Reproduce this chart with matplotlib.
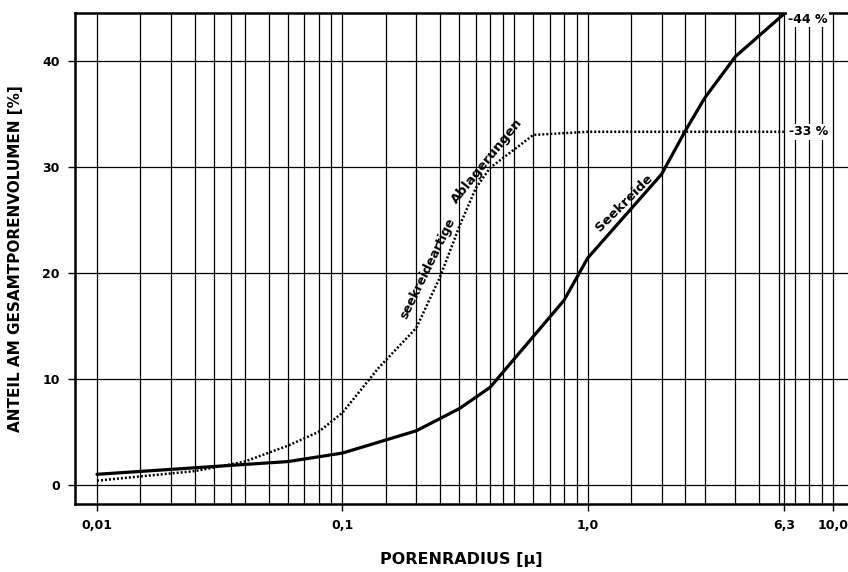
import matplotlib.pyplot as plt
from matplotlib.ticker import FixedLocator, NullFormatter

# Seekreide (solid)
radius_seekreide = [0.01, 0.06, 0.1, 0.2, 0.3, 0.4, 0.8, 1.0, 2.0, 2.5, 3.0, 4.0, 6.3]
anteil_seekreide = [1.0, 2.2, 3.0, 5.1, 7.2, 9.2, 17.4, 21.4, 29.3, 33.4, 36.5, 40.4, 44.4]

# seekreideartige Ablagerungen (dotted)
radius_ablag = [0.01, 0.025, 0.04, 0.06, 0.08, 0.1, 0.14, 0.2, 0.25, 0.3, 0.35, 0.4, 0.6, 1.0, 6.3]
anteil_ablag = [0.4, 1.3, 2.2, 3.7, 5.0, 6.8, 11.0, 14.8, 19.6, 24.4, 28.0, 29.9, 33.0, 33.3, 33.3]

x_ticks = [0.01, 0.1, 1.0, 6.3, 10.0]
x_ticklabels = ['0,01', '0,1', '1,0', '6,3', '10,0']
y_ticks = [0, 10, 20, 30, 40]

# vertical grid lines of the log paper
grid_mult = {0.01: [1.5, 2, 2.5, 3, 3.5, 4, 5, 6, 7, 8, 9],
             0.1: [1.5, 2, 2.5, 3, 3.5, 4, 4.5, 5, 6, 7, 8, 9],
             1.0: [1.5, 2, 2.5, 3, 4, 5, 6, 7, 8, 9]}
grid_x = [d * m for d, ms in grid_mult.items() for m in ms]

fig = plt.figure(figsize=(8.48, 5.72), dpi=100)
ax = fig.add_axes([0.0884, 0.1189, 0.9116, 0.8584])

ax.plot(radius_seekreide, anteil_seekreide, color='black', lw=2.3, solid_capstyle='round', zorder=3)
ax.plot(radius_ablag, anteil_ablag, color='black', lw=1.8, linestyle=(0, (0.8, 0.8)), zorder=3)

ax.set_xscale('log')
ax.set_xlim(0.00813, 11.5)
ax.set_ylim(-1.8, 44.5)

ax.xaxis.set_major_locator(FixedLocator(x_ticks))
ax.set_xticklabels(x_ticklabels)
ax.xaxis.set_minor_locator(FixedLocator(grid_x))
ax.xaxis.set_minor_formatter(NullFormatter())
ax.set_yticks(y_ticks)

ax.grid(True, which='major', color='black', lw=0.9)
ax.grid(True, which='minor', axis='x', color='black', lw=0.9)
ax.tick_params(which='minor', length=0)
ax.tick_params(which='major', length=5, width=1, direction='out', pad=6, labelsize=9)
for lab in ax.get_xticklabels() + ax.get_yticklabels():
    lab.set_fontweight('bold')

for side in ['left', 'top', 'bottom']:
    ax.spines[side].set_linewidth(1.8)
ax.spines['right'].set_visible(False)

ax.set_xlabel('PORENRADIUS [µ]', fontsize=11.5, fontweight='bold', labelpad=14)
ax.set_ylabel('ANTEIL AM GESAMTPORENVOLUMEN [%]', fontsize=11, fontweight='bold', labelpad=14)

ax.text(0.222, 20.4, 'seekreideartige', rotation=64, rotation_mode='anchor',
        ha='center', va='center', fontsize=9, fontweight='bold', zorder=4)
ax.text(0.39, 30.5, 'Ablagerungen', rotation=51, rotation_mode='anchor',
        ha='center', va='center', fontsize=9.5, fontweight='bold', zorder=4)
ax.text(1.41, 26.6, 'Seekreide', rotation=45, rotation_mode='anchor',
        ha='center', va='center', fontsize=9.5, fontweight='bold', zorder=4)

box = dict(facecolor='white', edgecolor='none', pad=1)
ax.text(6.56, 43.9, '-44 %', ha='left', va='center', fontsize=9, fontweight='bold', bbox=box, zorder=4)
ax.text(6.6, 33.3, '-33 %', ha='left', va='center', fontsize=9, fontweight='bold', bbox=box, zorder=4)

fig.savefig('out.png', dpi=100)
